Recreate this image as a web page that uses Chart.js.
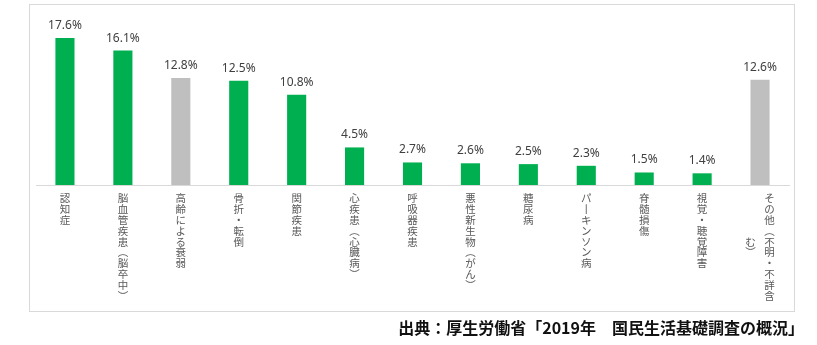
<!DOCTYPE html>
<html><head><meta charset="utf-8">
<script src="https://cdn.jsdelivr.net/npm/chart.js@4/dist/chart.umd.min.js"></script>
<style>
html,body{margin:0;padding:0;background:#fff;width:817px;height:345px;overflow:hidden;}
#frame{position:absolute;left:29px;top:4px;width:764px;height:306px;border:1px solid #d9d9d9;box-sizing:content-box;}
#wrap{position:absolute;left:0;top:0;width:817px;height:345px;}
#src{position:absolute;right:13px;top:317px;font-family:"Noto Sans CJK JP";font-weight:bold;font-size:16px;line-height:20px;color:#111;white-space:nowrap;}
</style></head><body>
<div id="frame"></div>
<div id="wrap"><canvas id="c" width="817" height="345"></canvas></div>
<div id="src">出典：厚生労働省「2019年　国民生活基礎調査の概況」</div>
<script>
// categories ("\n" marks a column break in the vertical label)
const categories = [
  "認知症",
  "脳血管疾患（脳卒中）",
  "高齢による衰弱",
  "骨折・転倒",
  "関節疾患",
  "心疾患（心臓病）",
  "呼吸器疾患",
  "悪性新生物（がん）",
  "糖尿病",
  "パーキンソン病",
  "脊髄損傷",
  "視覚・聴覚障害",
  "その他（不明・不詳含\nむ）"
];
const values = [17.6, 16.1, 12.8, 12.5, 10.8, 4.5, 2.7, 2.6, 2.5, 2.3, 1.5, 1.4, 12.6];
const isOther = [false, false, true, false, false, false, false, false, false, false, false, false, true];

const GREEN = '#00b050', GREY = '#bfbfbf';

function toVertical(s){
  return s.replace(/（/g,'︵').replace(/）/g,'︶').replace(/ー/g,'丨');
}

const valueLabels = {
  id:'valueLabels',
  afterDatasetsDraw(chart){
    const ctx = chart.ctx;
    const meta = chart.getDatasetMeta(0);
    ctx.save();
    ctx.font = '12px "Noto Sans"';
    ctx.fillStyle = '#404040';
    ctx.textAlign = 'center';
    ctx.textBaseline = 'alphabetic';
    meta.data.forEach((bar, i) => {
      ctx.fillText(values[i].toFixed(1) + '%', bar.x, bar.y - 9);
    });
    ctx.restore();
  }
};

const verticalLabels = {
  id:'verticalLabels',
  afterDraw(chart){
    const ctx = chart.ctx, xs = chart.scales.x;
    const pitch = 10.8, colGap = 19;
    ctx.save();
    ctx.font = '10.5px "Noto Sans CJK JP"';
    ctx.fillStyle = '#595959';
    ctx.textAlign = 'center';
    ctx.textBaseline = 'middle';
    const top = chart.chartArea.bottom + 13.5;
    categories.forEach((lab, i) => {
      const cols = toVertical(lab).split('\n');
      const x0 = xs.getPixelForValue(i);
      const maxLen = Math.max(...cols.map(c => [...c].length));
      cols.forEach((col, k) => {
        const cx = x0 + (cols.length - 1) * colGap / 2 - k * colGap;
        const chars = [...col];
        const off = (maxLen - chars.length) * pitch / 2;
        chars.forEach((ch, j) => ctx.fillText(ch, cx, top + off + j * pitch));
      });
    });
    ctx.restore();
  }
};

new Chart(document.getElementById('c'), {
  type: 'bar',
  data: {
    labels: categories,
    datasets: [{
      data: values,
      backgroundColor: isOther.map(o => o ? GREY : GREEN),
      borderWidth: 0,
      categoryPercentage: 1,
      barPercentage: 0.33
    }]
  },
  options: {
    responsive: false,
    animation: false,
    devicePixelRatio: 1,
    layout: { padding: { left: 36, right: 28, top: 18, bottom: 160 } },
    plugins: { legend: { display: false }, tooltip: { enabled: false } },
    scales: {
      x: {
        display: true,
        ticks: { display: false },
        grid: { display: false, drawTicks: false },
        border: { display: true, color: '#d9d9d9', width: 1 }
      },
      y: {
        display: false,
        min: 0, max: 20
      }
    }
  },
  plugins: [valueLabels, verticalLabels]
});
</script>
</body></html>
